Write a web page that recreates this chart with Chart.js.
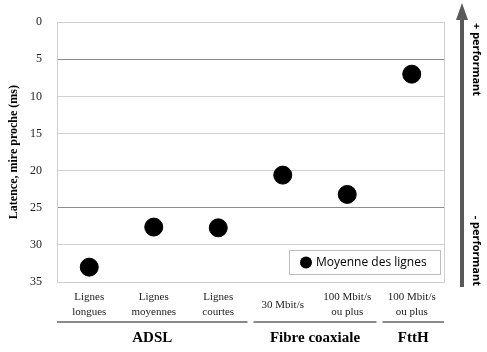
<!DOCTYPE html>
<html>
<head>
<meta charset="utf-8">
<script src="https://cdn.jsdelivr.net/npm/chart.js@4"></script>
<style>
  body { margin: 0; background: #fff; }
  canvas { display: block; }
</style>
</head>
<body>
<canvas id="c" width="487" height="352"></canvas>
<script>
var categories = [
  ["Lignes", "longues"],
  ["Lignes", "moyennes"],
  ["Lignes", "courtes"],
  ["30 Mbit/s"],
  ["100 Mbit/s", "ou plus"],
  ["100 Mbit/s", "ou plus"]
]
var latence = [33, 27.6, 27.7, 20.6, 23.2, 7]
var seriesName = "Moyenne des lignes"
var groups = ["ADSL", "Fibre coaxiale", "FttH"]
var groupSpans = [[0, 2], [3, 4], [5, 5]]
var yTicks = [0, 5, 10, 15, 20, 25, 30, 35]

var serif = "'Liberation Serif', 'DejaVu Serif', serif"
var sans = "'Open Sans', 'Liberation Sans', sans-serif"

// legend, groupes et fleche de droite
var extras = {
  id: "extras",
  afterDraw(chart) {
    const ctx = chart.ctx, area = chart.chartArea, x = chart.scales.x
    const step = x.getPixelForValue(1) - x.getPixelForValue(0)
    ctx.save()

    // bord droit
    ctx.strokeStyle = "#cfcfcf"
    ctx.lineWidth = 1
    ctx.beginPath()
    ctx.moveTo(area.right + 0.5, area.top)
    ctx.lineTo(area.right + 0.5, area.bottom)
    ctx.stroke()

    // groupes
    groups.forEach((g, i) => {
      const a = x.getPixelForValue(groupSpans[i][0]) - step / 2 + (i > 0 ? 3 : 0)
      const b = x.getPixelForValue(groupSpans[i][1]) + step / 2 - (i < groups.length - 1 ? 3 : 0)
      ctx.strokeStyle = "#8a8a8a"
      ctx.lineWidth = 2
      ctx.beginPath()
      ctx.moveTo(a, 322)
      ctx.lineTo(b, 322)
      ctx.stroke()
      ctx.fillStyle = "#000"
      ctx.font = "bold 15px " + serif
      ctx.textAlign = "center"
      ctx.textBaseline = "middle"
      ctx.fillText(g, (a + b) / 2, 338)
    })

    // legende
    const lx = 289, ly = 250, lw = 151, lh = 24
    ctx.fillStyle = "#fff"
    ctx.fillRect(lx, ly, lw, lh)
    ctx.strokeStyle = "#bdbdbd"
    ctx.lineWidth = 1
    ctx.strokeRect(lx + 0.5, ly + 0.5, lw, lh)
    ctx.fillStyle = "#000"
    ctx.beginPath()
    ctx.arc(lx + 17, ly + 12.5, 6, 0, Math.PI * 2)
    ctx.fill()
    ctx.font = "12px " + sans
    ctx.textAlign = "left"
    ctx.textBaseline = "middle"
    ctx.fillText(chart.data.datasets[0].label, lx + 27, ly + 13)

    // fleche
    const ax = 462
    ctx.strokeStyle = "#595959"
    ctx.fillStyle = "#595959"
    ctx.lineWidth = 4
    ctx.beginPath()
    ctx.moveTo(ax, 287)
    ctx.lineTo(ax, 18)
    ctx.stroke()
    ctx.beginPath()
    ctx.moveTo(ax, 3)
    ctx.lineTo(ax - 6, 20)
    ctx.lineTo(ax + 6, 20)
    ctx.closePath()
    ctx.fill()

    ctx.fillStyle = "#000"
    ctx.font = "bold 11px " + sans
    ctx.textBaseline = "middle"
    ctx.save()
    ctx.translate(476, 0)
    ctx.rotate(Math.PI / 2)
    ctx.textAlign = "left"
    ctx.fillText("+ performant", 23, 0)
    ctx.textAlign = "right"
    ctx.fillText("- performant", 286, 0)
    ctx.restore()

    ctx.restore()
  }
}

new Chart(document.getElementById("c"), {
  type: "line",
  data: {
    labels: categories,
    datasets: [{
      label: seriesName,
      data: latence,
      showLine: false,
      pointRadius: 9,
      pointHoverRadius: 9,
      pointBackgroundColor: "#000",
      pointBorderColor: "#000",
      borderColor: "#000",
      backgroundColor: "#000"
    }]
  },
  options: {
    responsive: false,
    animation: false,
    layout: { padding: { top: 19, right: 43, left: 0, bottom: 0 } },
    plugins: {
      legend: { display: false },
      tooltip: { enabled: false }
    },
    scales: {
      x: {
        offset: true,
        grid: { display: false, drawTicks: false },
        border: { display: true, color: "#cfcfcf" },
        ticks: {
          color: "#222",
          font: { family: serif, size: 11, lineHeight: 1.4 },
          padding: 15,
          maxRotation: 0,
          autoSkip: false,
          crossAlign: "center"
        },
        afterFit(s) { s.height = 70 }
      },
      y: {
        reverse: true,
        min: 0,
        max: 35,
        afterBuildTicks(s) { s.ticks = yTicks.map(v => ({ value: v })) },
        grid: {
          drawTicks: false,
          color: c => (c.tick && (c.tick.value === 5 || c.tick.value === 25)) ? "#8c8c8c" : "#d0d0d0"
        },
        border: { display: true, color: "#cfcfcf" },
        ticks: {
          color: "#222",
          font: { family: serif, size: 12 },
          padding: 15
        },
        title: {
          display: true,
          text: "Latence, mire proche (ms)",
          color: "#000",
          font: { family: serif, size: 12, weight: "bold" },
          padding: { top: 7, bottom: 0 }
        },
        afterFit(s) { s.width = 57 }
      }
    }
  },
  plugins: [extras]
})
</script>
</body>
</html>
